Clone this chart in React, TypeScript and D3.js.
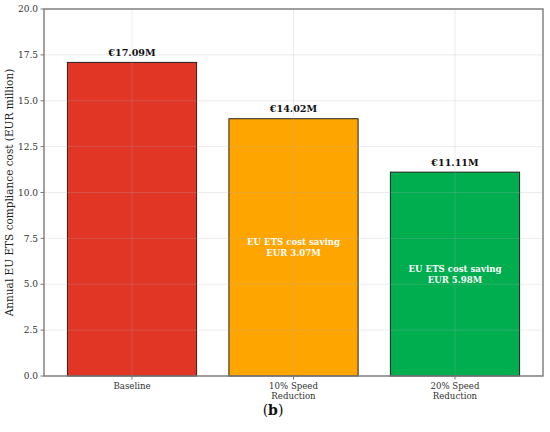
import React, { useEffect, useRef } from "react";
import * as d3 from "d3";

const categories = ["Baseline", "10% Speed\nReduction", "20% Speed\nReduction"];
const costs = [17.09, 14.02, 11.11];
const savings = [null, 3.07, 5.98];
const barColors = ["#e13526", "#ffa500", "#00ad4f"];
const yTicks = [0, 2.5, 5, 7.5, 10, 12.5, 15, 17.5, 20];

export default function App() {
  const ref = useRef<SVGSVGElement | null>(null);

  useEffect(() => {
    if (!ref.current) return;
    const svg = d3.select(ref.current);
    svg.selectAll("*").remove();

    const width = 550;
    const height = 432;
    const margin = { top: 9, right: 7, bottom: 56, left: 44 };
    const w = width - margin.left - margin.right;
    const h = height - margin.top - margin.bottom;
    const font = "'DejaVu Serif', serif";

    // matplotlib-style numeric x axis: bars at 0,1,2 with width 0.8
    const x = d3.scaleLinear().domain([-0.545, 2.545]).range([0, w]);
    const y = d3.scaleLinear().domain([0, 20]).range([h, 0]);
    const bw = x(0.8) - x(0);

    svg.append("rect").attr("width", width).attr("height", height).attr("fill", "white");
    const g = svg.append("g").attr("transform", `translate(${margin.left},${margin.top})`);

    // bars
    g.selectAll(".bar").data(costs).enter().append("rect")
      .attr("x", (_, i) => x(i) - bw / 2)
      .attr("y", (d) => y(d))
      .attr("width", bw)
      .attr("height", (d) => h - y(d))
      .attr("fill", (_, i) => barColors[i])
      .attr("stroke", "#222")
      .attr("stroke-width", 1);

    // grid on top, faint
    const grid = g.append("g").attr("stroke", "#b0b0b0").attr("stroke-opacity", 0.3).attr("stroke-width", 0.8);
    yTicks.forEach((t) => {
      grid.append("line").attr("x1", 0).attr("x2", w).attr("y1", y(t)).attr("y2", y(t));
    });
    categories.forEach((_, i) => {
      grid.append("line").attr("x1", x(i)).attr("x2", x(i)).attr("y1", 0).attr("y2", h);
    });

    // value labels
    g.selectAll(".val").data(costs).enter().append("text")
      .attr("x", (_, i) => x(i))
      .attr("y", (d) => y(d) - 6.5)
      .attr("text-anchor", "middle")
      .style("font-family", font)
      .style("font-size", "9.6px")
      .style("font-weight", "bold")
      .attr("fill", "#111")
      .text((d) => `€${d.toFixed(2)}M`);

    // saving labels inside bars
    savings.forEach((s, i) => {
      if (s == null) return;
      const cy = (y(costs[i]) + h) / 2;
      const t = g.append("text")
        .attr("x", x(i))
        .attr("text-anchor", "middle")
        .style("font-family", font)
        .style("font-size", "8.6px")
        .style("font-weight", "bold")
        .attr("fill", "white");
      t.append("tspan").attr("x", x(i)).attr("y", cy - 2).text("EU ETS cost saving");
      t.append("tspan").attr("x", x(i)).attr("y", cy + 8.5).text(`EUR ${s.toFixed(2)}M`);
    });

    // spines
    g.append("rect").attr("width", w).attr("height", h)
      .attr("fill", "none").attr("stroke", "#7a7a7a").attr("stroke-width", 1.4);

    // y ticks
    const yAxis = g.append("g");
    yTicks.forEach((t) => {
      yAxis.append("line").attr("x1", -3.5).attr("x2", 0).attr("y1", y(t)).attr("y2", y(t))
        .attr("stroke", "#7a7a7a").attr("stroke-width", 1);
      yAxis.append("text")
        .attr("x", -6).attr("y", y(t)).attr("dy", "0.35em")
        .attr("text-anchor", "end")
        .style("font-family", font).style("font-size", "9px")
        .attr("fill", "#333")
        .text(t.toFixed(1));
    });

    // x ticks
    const xAxis = g.append("g");
    categories.forEach((c, i) => {
      xAxis.append("line").attr("x1", x(i)).attr("x2", x(i)).attr("y1", h).attr("y2", h + 3.5)
        .attr("stroke", "#7a7a7a").attr("stroke-width", 1);
      const t = xAxis.append("text")
        .attr("text-anchor", "middle")
        .style("font-family", font).style("font-size", "8.6px")
        .attr("fill", "#333");
      c.split("\n").forEach((line, j) => {
        t.append("tspan").attr("x", x(i)).attr("y", h + 13 + j * 10).text(line);
      });
    });

    // y label
    svg.append("text")
      .attr("transform", `translate(13,${margin.top + h / 2}) rotate(-90)`)
      .attr("text-anchor", "middle")
      .style("font-family", font).style("font-size", "10.5px")
      .attr("fill", "#222")
      .text("Annual EU ETS compliance cost (EUR million)");

    // panel tag
    const tag = svg.append("text")
      .attr("x", 273).attr("y", 415)
      .attr("text-anchor", "middle")
      .style("font-family", "'DejaVu Serif', serif").style("font-size", "14px")
      .attr("fill", "#111");
    tag.append("tspan").text("(");
    tag.append("tspan").style("font-weight", "bold").text("b");
    tag.append("tspan").text(")");
  }, []);

  return <svg ref={ref} width={550} height={432} style={{ display: "block", position: "absolute", left: 0, top: 0 }} />;
}
